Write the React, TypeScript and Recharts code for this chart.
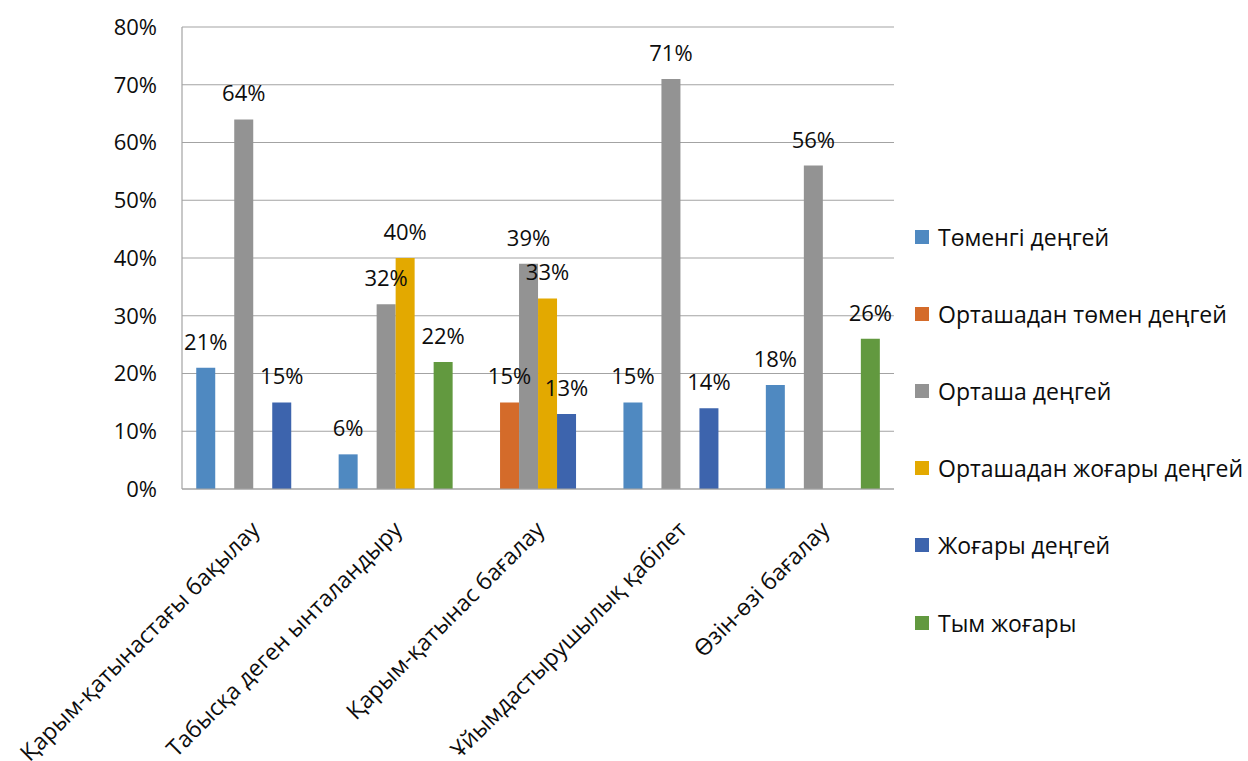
import React from 'react';
import { BarChart, Bar, XAxis, YAxis, CartesianGrid, Legend, LabelList } from 'recharts';

const categories = [
  'Қарым-қатынастағы бақылау',
  'Табысқа деген ынталандыру',
  'Қарым-қатынас бағалау',
  'Ұйымдастырушылық қабілет',
  'Өзін-өзі бағалау',
];

const seriesNames = [
  'Төменгі деңгей',
  'Орташадан төмен деңгей',
  'Орташа деңгей',
  'Орташадан жоғары деңгей',
  'Жоғары деңгей',
  'Тым жоғары',
];
const seriesColors = ['#4f89c1', '#d46b2a', '#939393', '#e3a900', '#3d64ad', '#62993f'];

// null = no bar in that group
const low = [21, 6, null, 15, 18];
const belowMid = [null, null, 15, null, null];
const mid = [64, 32, 39, 71, 56];
const aboveMid = [null, 40, 33, null, null];
const high = [15, null, 13, 14, null];
const veryHigh = [null, 22, null, null, 26];

const yTicks = [0, 10, 20, 30, 40, 50, 60, 70, 80];

const seriesValues = [low, belowMid, mid, aboveMid, high, veryHigh];
const keys = ['s0', 's1', 's2', 's3', 's4', 's5'];

const data = categories.map((name, i) => {
  const row: Record<string, string | number | null> = { name };
  seriesValues.forEach((vals, j) => {
    row[keys[j]] = vals[i];
  });
  return row;
});

const FONT = '"Open Sans", "Noto Sans", sans-serif';
const TEXT = '#0d0d0d';

const CategoryTick = (props: any) => {
  const { x, y, payload } = props;
  const tx = x + 8;
  const ty = y + 42;
  return (
    <text
      x={tx}
      y={ty}
      transform={`rotate(-45, ${tx}, ${ty})`}
      textAnchor="end"
      fontSize={23}
      fontFamily={FONT}
      fill={TEXT}
    >
      {payload.value}
    </text>
  );
};

// keep legend in series order (recharts sorts the payload by default)
const LegendList = () => (
  <div style={{ fontFamily: FONT, fontSize: 23, color: TEXT }}>
    {seriesNames.map((name, j) => (
      <div key={name} style={{ height: 77.2, display: 'flex', alignItems: 'center', whiteSpace: 'nowrap' }}>
        <span style={{ width: 14, height: 14, background: seriesColors[j], display: 'inline-block', marginRight: 9 }} />
        <span>{name}</span>
      </div>
    ))}
  </div>
);

const fmt = (v: any) => (v == null ? '' : `${v}%`);

export default function App() {
  return (
    <div style={{ width: 1248, height: 761, background: '#fff' }}>
      <style>{'body{margin:0}'}</style>
      <BarChart
        width={1248}
        height={761}
        data={data}
        margin={{ top: 27, right: 354, bottom: 0, left: 0 }}
        barGap={0}
        barCategoryGap="10%"
      >
        <CartesianGrid vertical={false} stroke="#a3a3a3" strokeWidth={1.2} />
        <XAxis
          dataKey="name"
          interval={0}
          height={272}
          tickLine={false}
          tickSize={0}
          tickMargin={0}
          axisLine={{ stroke: '#a3a3a3', strokeWidth: 1.2 }}
          tick={<CategoryTick />}
        />
        <YAxis
          domain={[0, 80]}
          ticks={yTicks}
          width={182}
          tickLine={false}
          tickSize={0}
          tickMargin={25}
          axisLine={{ stroke: '#a3a3a3', strokeWidth: 1.2 }}
          tickFormatter={(v) => `${v}%`}
          tick={{ fontSize: 22, fontFamily: FONT, fill: TEXT }}
        />
        <Legend
          layout="vertical"
          align="center"
          verticalAlign="middle"
          content={<LegendList />}
          wrapperStyle={{ left: 915, top: 198, width: 333 }}
        />
        {keys.map((k, j) => (
          <Bar key={k} dataKey={k} name={seriesNames[j]} fill={seriesColors[j]} isAnimationActive={false}>
            <LabelList
              dataKey={k}
              position="top"
              offset={18}
              formatter={fmt}
              style={{ fontSize: 22, fontFamily: FONT, fill: TEXT }}
            />
          </Bar>
        ))}
      </BarChart>
    </div>
  );
}
